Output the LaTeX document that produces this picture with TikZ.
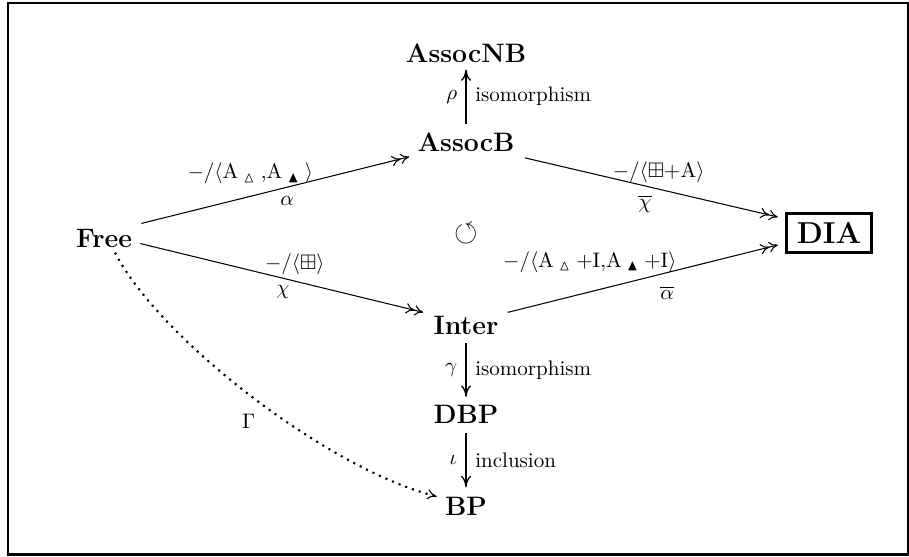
\documentclass[tikz,border=0pt]{standalone}
\usepackage{amssymb}
\usetikzlibrary{arrows.meta}
\newcommand{\tri}{\mathrm{A}_{\hspace{2.4pt}\vartriangle\hspace{2.4pt}}}
\newcommand{\btri}{\mathrm{A}_{\hspace{2.4pt}\blacktriangle\hspace{2.4pt}}}
\begin{document}
\begin{tikzpicture}[x=0.47619pt,y=-0.47619pt,
  obj/.style={inner sep=0pt, font=\fontsize{12.7}{15}\selectfont\bfseries},
  lab/.style={inner sep=0pt, font=\normalsize},
  epi/.style={line width=0.5pt, -{Computer Modern Rightarrow[length=4.2pt,width=5pt,line width=0.5pt,sep=0pt] Computer Modern Rightarrow[length=4.2pt,width=5pt,line width=0.5pt]}},
  iso/.style={line width=1.3pt, -{Computer Modern Rightarrow[length=5.5pt,width=4.8pt,line width=0.6pt]}},
  dotarr/.style={line width=1pt, dash pattern=on 1pt off 2.4pt, -{Computer Modern Rightarrow[length=4.5pt,width=4.8pt,line width=0.5pt]}}]
\useasboundingbox (0,0) rectangle (909,557);
\draw[line width=1.1pt] (7.8,2.8) rectangle (908,554.5);

\node[obj] (AssocNB) at (466,53.5) {AssocNB};
\node[obj] (AssocB) at (466,142) {AssocB};
\node[obj] (Free) at (104,238) {Free};
\node[obj] (Inter) at (466,325) {Inter};
\node[obj] (DBP) at (466,414.5) {DBP};
\node[obj] (BP) at (466,506) {BP};
\node[draw, line width=1.4pt, inner xsep=5pt, inner ysep=4.4pt, font=\Large\bfseries] (DIA) at (829,233) {DIA};
\node[lab, font=\Large] (cyc) at (466,234) {$\circlearrowleft$};

\draw[epi] ([shift={(9,-5)}]Free.north east) --
  node[lab,pos=0.407,shift={(0,-22.7)}] (l1) {$-/\langle \tri{,}\btri\rangle$}
  node[lab,pos=0.544,shift={(0,13.5)}] (a1) {$\alpha$}
  ([shift={(-8,5)}]AssocB.south west);
\draw[epi] ([shift={(10,6)}]AssocB.south east) --
  node[lab,pos=0.529,shift={(0,-16.8)}] (l2) {$-/\langle \boxplus{+}\mathrm{A}\rangle$}
  node[lab,pos=0.475,shift={(0,17.5)}] (a2) {$\overline{\chi}$}
  ([shift={(-7,-16)}]DIA.west);
\draw[epi] ([shift={(8,-4)}]Free.south east) --
  node[lab,pos=0.546,shift={(0,-17.2)}] (l3) {$-/\langle \boxplus\rangle$}
  node[lab,pos=0.504,shift={(0,13.7)}] (a3) {$\chi$}
  ([shift={(-10,-3)}]Inter.north west);
\draw[epi] ([shift={(9,-3)}]Inter.north east) --
  node[lab,pos=0.304,shift={(0,-29.3)}] (l4) {$-/\langle \tri{+}\mathrm{I}{,}\btri{+}\mathrm{I}\rangle$}
  node[lab,pos=0.59,shift={(0,20.1)}] (a4) {$\overline{\alpha}$}
  ([shift={(-7,12)}]DIA.west);

\draw[iso] ([shift={(0,-8)}]AssocB.north) --
  node[lab,midway,anchor=east,shift={(-7.5,0)}] (rho) {$\rho$}
  node[lab,midway,anchor=west,shift={(8,0)}] (i1) {isomorphism}
  ([shift={(0,6)}]AssocNB.south);
\draw[iso] ([shift={(0,8.5)}]Inter.south) --
  node[lab,midway,anchor=east,shift={(-7.5,0)}] (gam) {$\gamma$}
  node[lab,midway,anchor=west,shift={(8,0)}] (i2) {isomorphism}
  ([shift={(0,-8)}]DBP.north);
\draw[iso] ([shift={(0,9)}]DBP.south) --
  node[lab,midway,anchor=east,shift={(-7.5,0)}] (iota) {$\iota$}
  node[lab,midway,anchor=west,shift={(8,0)}] (i3) {inclusion}
  ([shift={(0,-9)}]BP.north);

\draw[dotarr] ([shift={(11,5)}]Free.south) .. controls (160,340) and (330,470) ..
  node[lab,pos=0.5,shift={(-4,24)}] (G) {$\Gamma$}
  ([shift={(-8,0)}]BP.north west);
\end{tikzpicture}
\end{document}
